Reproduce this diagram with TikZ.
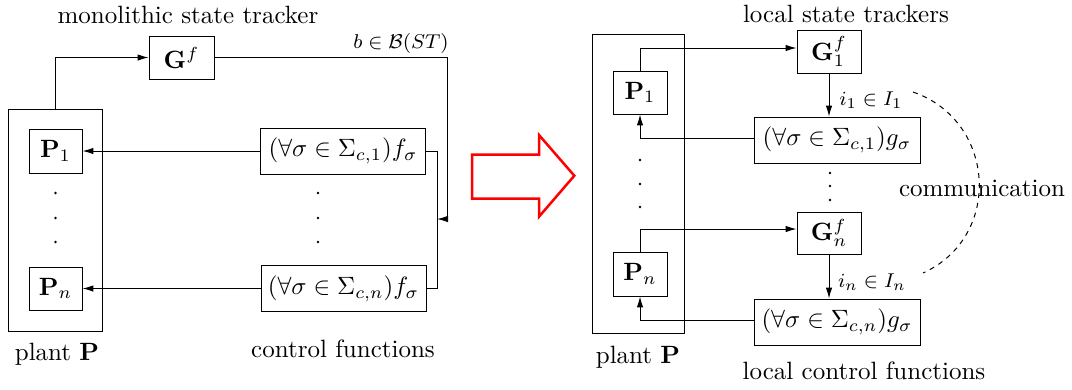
\documentclass[tikz,border=0pt]{standalone}
\usepackage{amsmath,amssymb}
\usetikzlibrary{arrows.meta}
\begin{document}
\begin{tikzpicture}[x=0.4pt,y=-0.4pt,
  box/.style={draw,line width=0.38pt,inner sep=0pt,align=center},
  conn/.style={line width=0.4pt},
  arr/.style={conn,-{Latex[length=4.4pt,width=2.6pt]}},
  lbl/.style={inner sep=0pt},
  small/.style={inner sep=0pt,font=\footnotesize},
  dotm/.style={fill,circle,inner sep=0pt,minimum size=1.1pt}]
\useasboundingbox (0,0) rectangle (1072,389);
% ---------- left ----------
\node[box,minimum width=37.6pt,minimum height=88.8pt] (plantL) at (55,220) {};
\node[box,minimum width=21.2pt,minimum height=17.6pt] (P1L) at (55.5,151) {$\mathbf{P}_1$};
\node[box,minimum width=21.2pt,minimum height=17.2pt] (PnL) at (55.5,288.5) {$\mathbf{P}_n$};
\node[box,minimum width=26pt,minimum height=17.2pt] (Gf) at (181.5,57.5) {$\mathbf{G}^f$};
\node[box,minimum width=66pt,minimum height=18.4pt] (f1) at (343,151) {$(\forall\sigma\in\Sigma_{c,1})f_\sigma$};
\node[box,minimum width=66pt,minimum height=18.4pt] (fn) at (343.5,288.5) {$(\forall\sigma\in\Sigma_{c,n})f_\sigma$};
\coordinate (busL) at (437,219);
\coordinate (busR) at (447,219);
\draw[arr] (plantL.north) |- (Gf.west);
\draw[arr] (Gf.east) -| (busR) -- (busL);
\draw[conn] (f1.east) -- (f1.east -| busL) -- (fn.east -| busL) -- (fn.east);
\draw[arr] (f1.west) -- (P1L.east);
\draw[arr] (fn.west) -- (PnL.east);
\node[small] (bl) at (401,43) {$b\in\mathcal{B}(ST)$};
\node[dotm] (dl1) at (55.5,193) {};
\node[dotm] (dl2) at (55.5,218) {};
\node[dotm] (dl3) at (55.5,242) {};
\node[dotm] (dm1) at (318,193) {};
\node[dotm] (dm2) at (318,218) {};
\node[dotm] (dm3) at (318,242) {};
\node[lbl] (t1) at (188,15) {monolithic state tracker};
\node[lbl] (t2) at (57,354) {plant $\mathbf{P}$};
\node[lbl] (t3) at (343,349) {control functions};
% ---------- red arrow ----------
\draw[red,line width=1pt,line join=miter] (472,154.7) -- (539,154.7) -- (539,135) -- (574.3,175.7) -- (539,216.7) -- (539,198.7) -- (472,198.7) -- cycle;
% ---------- right ----------
\node[box,minimum width=36.8pt,minimum height=119.6pt] (plantR) at (638,183.5) {};
\node[box,minimum width=21.6pt,minimum height=17.2pt] (P1R) at (640,92.5) {$\mathbf{P}_1$};
\node[box,minimum width=21.6pt,minimum height=17.6pt] (PnR) at (640,274) {$\mathbf{P}_n$};
\node[box,minimum width=25.6pt,minimum height=17.2pt] (G1) at (829,51.5) {$\mathbf{G}^f_1$};
\node[box,minimum width=25.6pt,minimum height=16.8pt] (Gn) at (829,233) {$\mathbf{G}^f_n$};
\node[box,minimum width=66.4pt,minimum height=18.4pt] (g1) at (837,140) {$(\forall\sigma\in\Sigma_{c,1})g_\sigma$};
\node[box,minimum width=66.4pt,minimum height=18.4pt] (gn) at (837,322) {$(\forall\sigma\in\Sigma_{c,n})g_\sigma$};
\draw[arr] (P1R.north) |- ([yshift=1.4pt]G1.west);
\draw[arr] (G1.south) -- (G1.south |- g1.north);
\draw[arr] ([yshift=0.7pt]g1.west) -| (P1R.south);
\draw[arr] (PnR.north) |- ([yshift=1.6pt]Gn.west);
\draw[arr] (Gn.south) -- (Gn.south |- gn.north);
\draw[arr] ([yshift=0.8pt]gn.west) -| (PnR.south);
\node[small] (i1) at (871,100) {$i_1\in I_1$};
\node[small] (in) at (872,282) {$i_n\in I_n$};
\node[dotm] (dr1) at (640,160) {};
\node[dotm] (dr2) at (640,184) {};
\node[dotm] (dr3) at (640,207) {};
\node[dotm] (dg1) at (830,173) {};
\node[dotm] (dg2) at (830,186) {};
\node[dotm] (dg3) at (830,200) {};
\node[lbl] (t4) at (846,14) {local state trackers};
\node[lbl] (t5) at (638,357) {plant $\mathbf{P}$};
\node[lbl] (t6) at (864,371) {local control functions};
\node[lbl] (t7) at (982,188) {communication};
\coordinate (cs) at (913,92);
\coordinate (ce) at (923,273);
\draw[conn,dashed,dash pattern=on 2pt off 2pt] (cs) .. controls (996,120.6) and (1003,236.8) .. (ce);
\end{tikzpicture}
\end{document}
